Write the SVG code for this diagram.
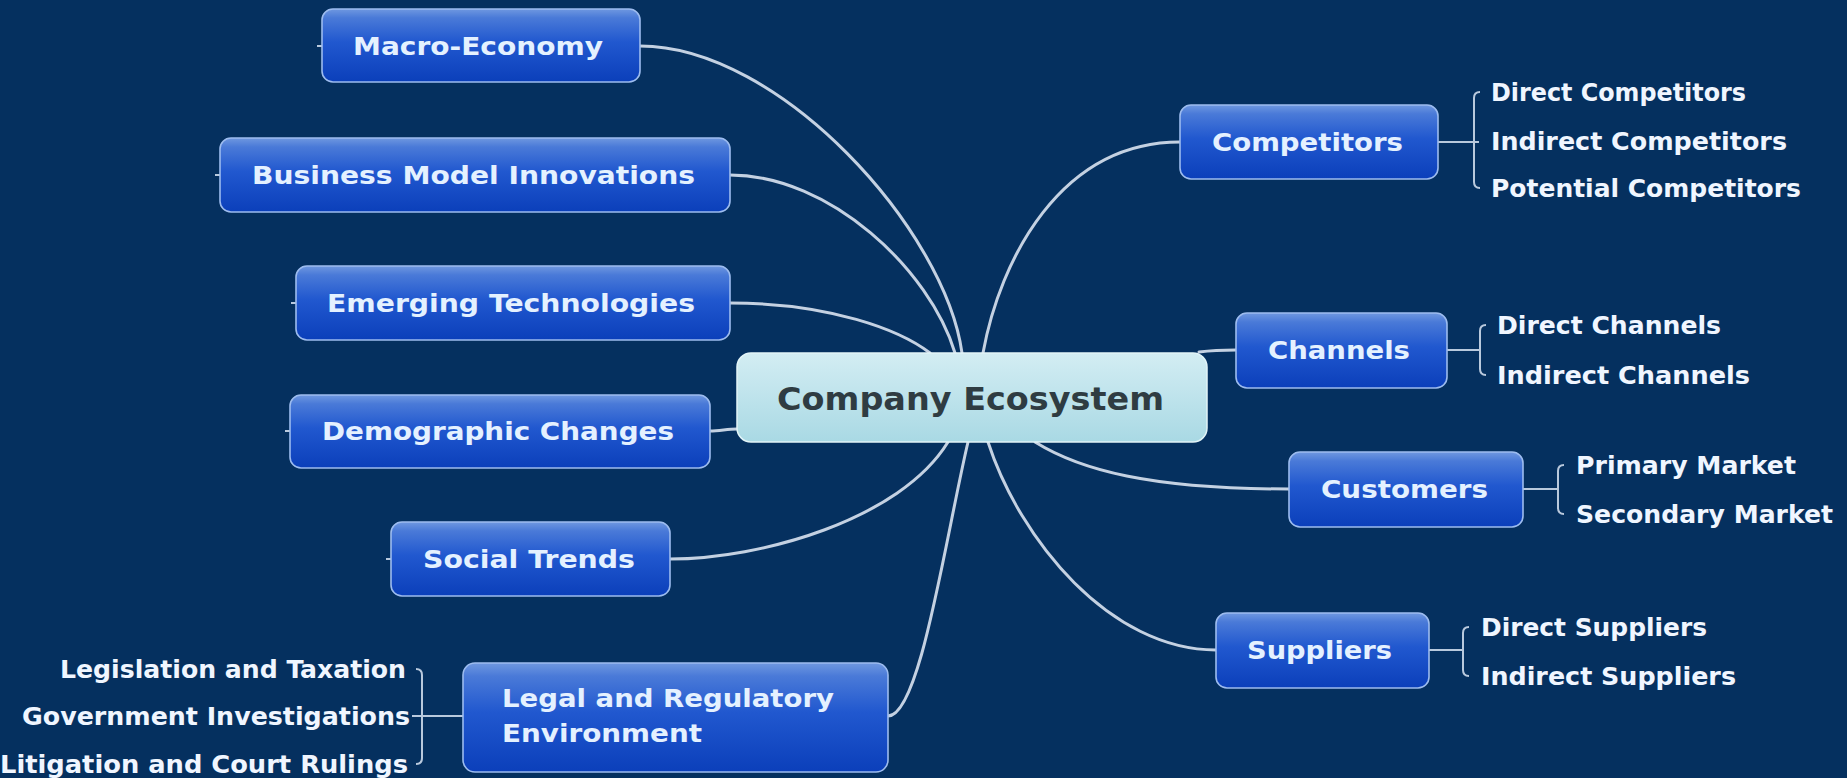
<svg xmlns="http://www.w3.org/2000/svg" width="1847" height="778" viewBox="0 0 1847 778">
  <defs>
    <linearGradient id="boxFill" x1="0" y1="0" x2="0" y2="1">
      <stop offset="0" stop-color="#6f98e0"/>
      <stop offset="0.12" stop-color="#4a7ad8"/>
      <stop offset="0.45" stop-color="#2158cf"/>
      <stop offset="1" stop-color="#0b3fba"/>
    </linearGradient>
    <linearGradient id="centerFill" x1="0" y1="0" x2="0" y2="1">
      <stop offset="0" stop-color="#d3edf3"/>
      <stop offset="1" stop-color="#a9d9e4"/>
    </linearGradient>
    <style>
      .bg { fill: #05305f; }
      .box { fill: url(#boxFill); stroke: #9dbcef; stroke-width: 1.6; }
      .center { fill: url(#centerFill); stroke: #e2f4f8; stroke-width: 1.5; }
      .conn { fill: none; stroke: #c4d1e2; stroke-width: 3; stroke-linecap: round; }
      .brk { fill: none; stroke: #b9c9dd; stroke-width: 2; }
      .lbl { font-family: "DejaVu Sans", Verdana, sans-serif; font-weight: bold; font-size: 24px; fill: #e4f1ff; }
      .lblc { font-family: "DejaVu Sans Condensed", "DejaVu Sans", sans-serif; font-weight: bold; font-size: 25px; fill: #e4f1ff; }
      .sub { font-family: "DejaVu Sans Condensed", "DejaVu Sans", sans-serif; font-weight: bold; font-size: 24px; fill: #f0f6ff; }
      .title { font-family: "DejaVu Sans", Verdana, sans-serif; font-weight: bold; font-size: 32px; fill: #2f3c42; }
    </style>
  </defs>

  <rect class="bg" x="0" y="0" width="1847" height="778"/>

  <!-- branch curves from the central topic -->
  <g id="connectors">
    <path class="conn" d="M640,46 C780,46 945,230 962,353"/>
    <path class="conn" d="M730,175 C830,175 930,270 955,353"/>
    <path class="conn" d="M730,303 C830,303 900,330 930,353"/>
    <path class="conn" d="M710,431 C720,431 727,429 737,429"/>
    <path class="conn" d="M670,559 C760,559 900,520 948,442"/>
    <path class="conn" d="M888,716 C920,716 945,540 968,442"/>
    <path class="conn" d="M983,353 C1000,260 1060,142 1180,142"/>
    <path class="conn" d="M1199,352 C1215,350 1225,350 1236,350"/>
    <path class="conn" d="M1035,442 C1080,470 1150,489 1289,489"/>
    <path class="conn" d="M988,442 C1020,540 1110,650 1216,650"/>

    <!-- collapse stubs on the outer side of the left topics -->
    <path class="brk" d="M317,46 H322 M215,175 H220 M291,303 H296 M285,431 H290 M386,559 H391"/>

    <!-- sub-topic brackets -->
    <path class="brk" d="M1438,142 H1479 M1480,92 Q1474,92 1474,98 V182 Q1474,188 1480,188"/>
    <path class="brk" d="M1447,350 H1480 M1486,325 Q1480,325 1480,331 V369 Q1480,375 1486,375"/>
    <path class="brk" d="M1523,489 H1558 M1564,465 Q1558,465 1558,471 V508 Q1558,514 1564,514"/>
    <path class="brk" d="M1429,650 H1463 M1469,627 Q1463,627 1463,633 V670 Q1463,676 1469,676"/>
    <path class="brk" d="M412,716 H463 M416,669 Q422,669 422,675 V758 Q422,764 416,764"/>
  </g>

  <g id="company-ecosystem">
    <rect class="center" x="737" y="353" width="470" height="89" rx="14"/>
    <text class="title" x="777" y="410" textLength="387" lengthAdjust="spacingAndGlyphs">Company Ecosystem</text>
  </g>

  <g id="macro-economy">
    <rect class="box" x="322" y="9" width="318" height="73" rx="11"/>
    <text class="lbl" x="353" y="55" textLength="250" lengthAdjust="spacingAndGlyphs">Macro-Economy</text>
  </g>

  <g id="business-model-innovations">
    <rect class="box" x="220" y="138" width="510" height="74" rx="11"/>
    <text class="lbl" x="252" y="184" textLength="443" lengthAdjust="spacingAndGlyphs">Business Model Innovations</text>
  </g>

  <g id="emerging-technologies">
    <rect class="box" x="296" y="266" width="434" height="74" rx="11"/>
    <text class="lbl" x="327" y="312" textLength="368" lengthAdjust="spacingAndGlyphs">Emerging Technologies</text>
  </g>

  <g id="demographic-changes">
    <rect class="box" x="290" y="395" width="420" height="73" rx="11"/>
    <text class="lbl" x="322" y="440" textLength="352" lengthAdjust="spacingAndGlyphs">Demographic Changes</text>
  </g>

  <g id="social-trends">
    <rect class="box" x="391" y="522" width="279" height="74" rx="11"/>
    <text class="lbl" x="423" y="568" textLength="212" lengthAdjust="spacingAndGlyphs">Social Trends</text>
  </g>

  <g id="legal-regulatory">
    <rect class="box" x="463" y="663" width="425" height="109" rx="12"/>
    <text class="lbl" x="502" y="707" textLength="332" lengthAdjust="spacingAndGlyphs">Legal and Regulatory</text>
    <text class="lbl" x="502" y="742" textLength="200" lengthAdjust="spacingAndGlyphs">Environment</text>
    <text class="sub" x="60" y="678" textLength="346" lengthAdjust="spacingAndGlyphs">Legislation and Taxation</text>
    <text class="sub" x="22" y="725" textLength="388" lengthAdjust="spacingAndGlyphs">Government Investigations</text>
    <text class="sub" x="0" y="773" textLength="408" lengthAdjust="spacingAndGlyphs">Litigation and Court Rulings</text>
  </g>

  <g id="competitors">
    <rect class="box" x="1180" y="105" width="258" height="74" rx="11"/>
    <text class="lblc" x="1212" y="151" textLength="191" lengthAdjust="spacingAndGlyphs">Competitors</text>
    <text class="sub" x="1491" y="101" textLength="255" lengthAdjust="spacingAndGlyphs">Direct Competitors</text>
    <text class="sub" x="1491" y="150" textLength="296" lengthAdjust="spacingAndGlyphs">Indirect Competitors</text>
    <text class="sub" x="1491" y="197" textLength="310" lengthAdjust="spacingAndGlyphs">Potential Competitors</text>
  </g>

  <g id="channels">
    <rect class="box" x="1236" y="313" width="211" height="75" rx="11"/>
    <text class="lblc" x="1268" y="359" textLength="142" lengthAdjust="spacingAndGlyphs">Channels</text>
    <text class="sub" x="1497" y="334" textLength="224" lengthAdjust="spacingAndGlyphs">Direct Channels</text>
    <text class="sub" x="1497" y="384" textLength="253" lengthAdjust="spacingAndGlyphs">Indirect Channels</text>
  </g>

  <g id="customers">
    <rect class="box" x="1289" y="452" width="234" height="75" rx="11"/>
    <text class="lblc" x="1321" y="498" textLength="167" lengthAdjust="spacingAndGlyphs">Customers</text>
    <text class="sub" x="1576" y="474" textLength="220" lengthAdjust="spacingAndGlyphs">Primary Market</text>
    <text class="sub" x="1576" y="523" textLength="257" lengthAdjust="spacingAndGlyphs">Secondary Market</text>
  </g>

  <g id="suppliers">
    <rect class="box" x="1216" y="613" width="213" height="75" rx="11"/>
    <text class="lblc" x="1247" y="659" textLength="145" lengthAdjust="spacingAndGlyphs">Suppliers</text>
    <text class="sub" x="1481" y="636" textLength="226" lengthAdjust="spacingAndGlyphs">Direct Suppliers</text>
    <text class="sub" x="1481" y="685" textLength="255" lengthAdjust="spacingAndGlyphs">Indirect Suppliers</text>
  </g>
</svg>
